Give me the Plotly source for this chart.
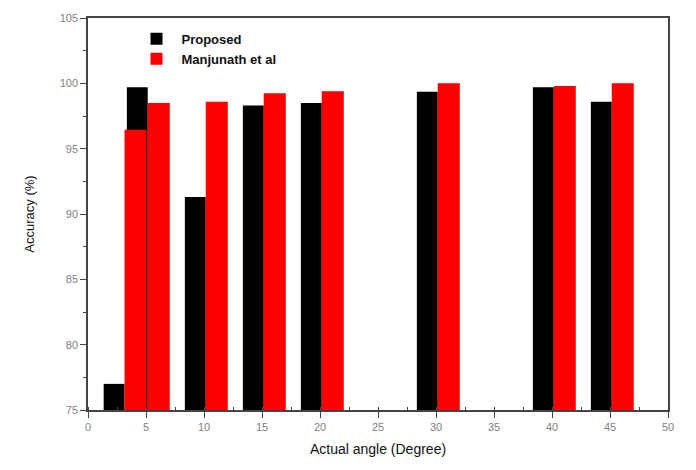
import plotly.graph_objects as go

angles = [3, 5, 10, 15, 20, 30, 40, 45]
proposed = [77.0, 99.7, 91.3, 98.3, 98.5, 99.35, 99.7, 98.6]
manjunath = [96.45, 98.5, 98.6, 99.25, 99.4, 100.0, 99.8, 100.0]
BASE = 75

FONT = "Liberation Sans, Arial, sans-serif"

fig = go.Figure()
fig.add_trace(go.Bar(x=angles, y=[v - BASE for v in proposed], base=BASE, name="Proposed",
                     marker=dict(color="#000000", line=dict(width=0)),
                     width=1.8, offset=-1.65,
                     hovertemplate="%{x}: %{customdata}<extra></extra>", customdata=proposed))
fig.add_trace(go.Bar(x=angles, y=[v - BASE for v in manjunath], base=BASE, name="Manjunath et al",
                     marker=dict(color="#ff0000", line=dict(width=0)),
                     width=1.9, offset=0.15,
                     hovertemplate="%{x}: %{customdata}<extra></extra>", customdata=manjunath))

axis_common = dict(
    showline=True, linecolor="#444444", linewidth=1.5, mirror=True,
    ticks="outside", ticklen=6, tickwidth=1, tickcolor="#444444",
    showgrid=False, zeroline=False,
    tickfont=dict(family=FONT, size=11, color="#808080"),
)

fig.update_layout(
    barmode="overlay",
    width=696, height=470,
    margin=dict(l=88, r=28, t=16, b=60),
    paper_bgcolor="white", plot_bgcolor="white",
    showlegend=True,
    legend=dict(x=0.075, y=0.985, xanchor="left", yanchor="top",
                bgcolor="rgba(0,0,0,0)",
                font=dict(family=FONT, size=13, color="#111111", weight="bold"),
                tracegroupgap=0, itemwidth=40),
    xaxis=dict(range=[0, 50], dtick=5,
               minor=dict(dtick=2.5, ticks="inside", ticklen=3, tickcolor="#444444"),
               title=dict(text="Actual angle (Degree)", standoff=12,
                          font=dict(family=FONT, size=14, color="#111111")),
               **axis_common),
    yaxis=dict(range=[75, 105], dtick=5,
               minor=dict(dtick=2.5, ticks="outside", ticklen=3, tickcolor="#444444"),
               title=dict(text="Accuracy (%)", standoff=22,
                          font=dict(family=FONT, size=13, color="#111111")),
               **axis_common),
)

fig.write_html("out.html", config={"displayModeBar": False},
               post_script="document.body.style.margin='0';")
